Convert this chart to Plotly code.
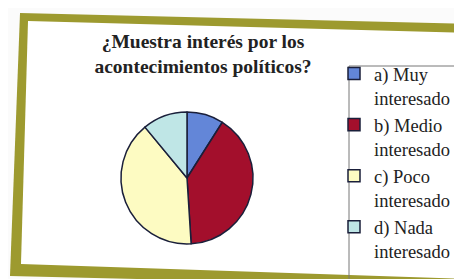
import plotly.graph_objects as go

W, H = 462, 279

categories = ["a) Muy<br>interesado", "b) Medio<br>interesado",
              "c) Poco<br>interesado", "d) Nada<br>interesado"]
values = [9, 40, 40, 11]
colors = ["#6386d8", "#a30f2c", "#fdfbc2", "#bfe6e6"]
title_text = "<b>¿Muestra interés por los<br>acontecimientos políticos?</b>"

SERIF = "Liberation Serif"


def px(x, y):
    return x / W, 1 - y / H


def poly(points):
    pts = [px(x, y) for x, y in points]
    return "M " + " L ".join(f"{a:.4f},{b:.4f}" for a, b in pts) + " Z"


outer = [(12, 5), (462, 16), (462, 279), (2, 268)]
inner = [(20, 13), (462, 25), (458, 271), (13, 256)]
legend_box = [(341, 58), (452, 58), (452, 272), (341, 272)]

fig = go.Figure(go.Pie(
    labels=categories,
    values=values,
    sort=False,
    direction="clockwise",
    rotation=0,
    textinfo="none",
    hoverinfo="label+percent",
    marker=dict(colors=colors, line=dict(color="#1a1f3a", width=1.5)),
    domain=dict(x=[(179 - 66) / W, (179 + 66) / W],
                y=[1 - (170 + 66) / H, 1 - (170 - 66) / H]),
))

fig.update_layout(
    width=W, height=H,
    margin=dict(l=0, r=0, t=0, b=0),
    font=dict(family=SERIF, color="#222222"),
    paper_bgcolor="#fbfbfb",
    plot_bgcolor="white",
    shapes=[
        dict(type="path", xref="paper", yref="paper", path=poly(outer),
             fillcolor="#9d9a2f", line=dict(width=0), layer="below"),
        dict(type="path", xref="paper", yref="paper", path=poly(inner),
             fillcolor="#ffffff", line=dict(width=0), layer="below"),
        dict(type="path", xref="paper", yref="paper", path=poly(legend_box),
             fillcolor="rgba(0,0,0,0)", line=dict(width=1, color="#777777"),
             layer="above"),
    ],
    title=dict(text=title_text, x=195 / W, xanchor="center",
               y=1 - 40 / H, yanchor="middle", yref="paper",
               font=dict(family=SERIF, size=19.5, color="#222222")),
    showlegend=True,
    legend=dict(x=326 / W, xanchor="left", y=1 - 47 / H, yanchor="top",
                bgcolor="rgba(0,0,0,0)", borderwidth=0,
                valign="top",
                font=dict(family=SERIF, size=18.5, color="#222222")),
)

fig.write_html("out.html")
